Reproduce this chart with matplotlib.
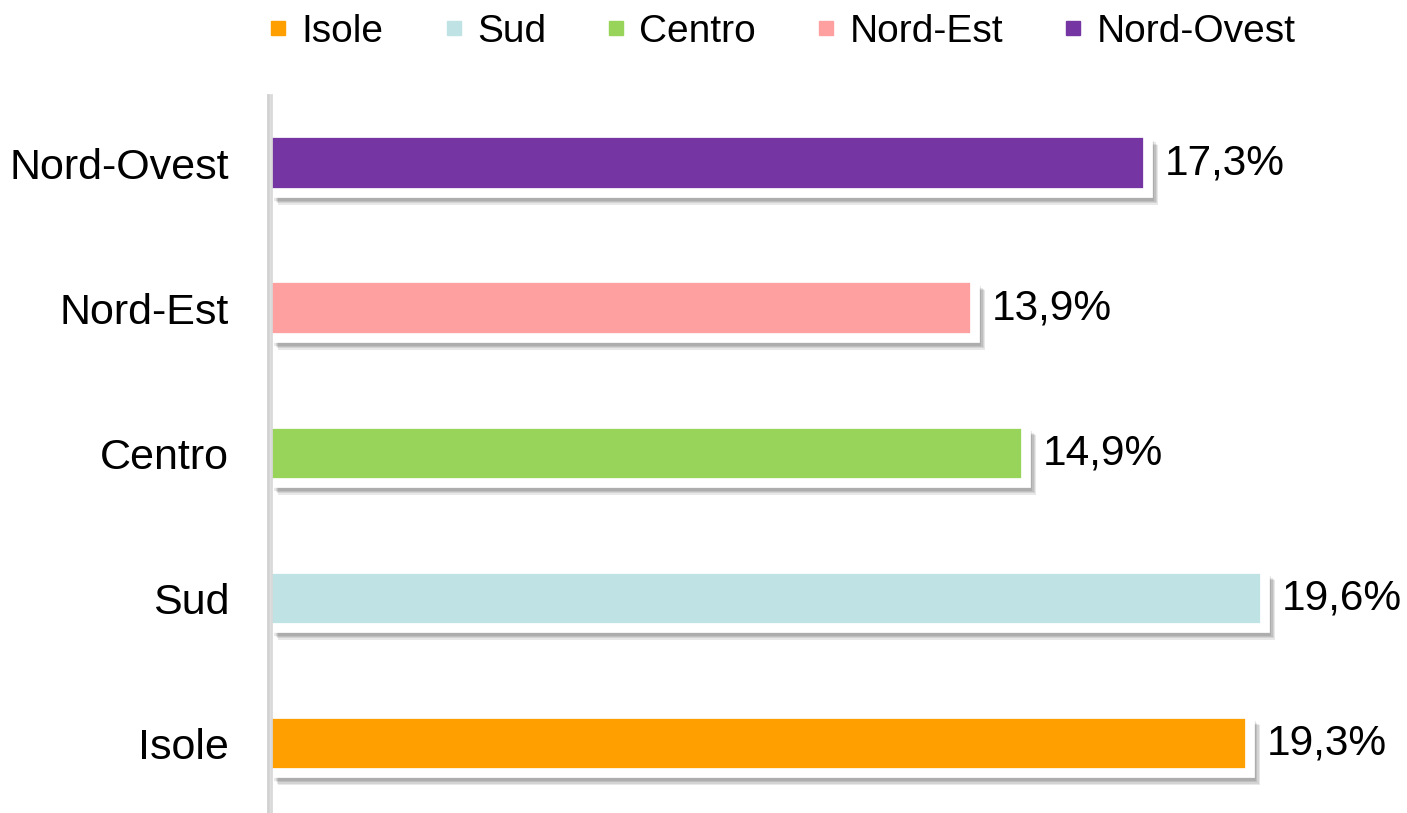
import matplotlib
matplotlib.use("Agg")
import matplotlib.pyplot as plt
import matplotlib.patheffects as pe
from matplotlib.lines import Line2D

regions = ["Isole", "Sud", "Centro", "Nord-Est", "Nord-Ovest"]
values = [19.3, 19.6, 14.9, 13.9, 17.3]
labels = ["19,3%", "19,6%", "14,9%", "13,9%", "17,3%"]
colors = ["#FF9F00", "#BFE3E4", "#99D45A", "#FFA0A0", "#7535A3"]

plt.rcParams['font.family'] = ['Liberation Sans', 'DejaVu Sans']

fig = plt.figure(figsize=(14.07, 8.13), dpi=100)
ax = fig.add_axes([268 / 1407, 0.0, 1119 / 1407, 718 / 813])

# soft-ish shadow: a few stacked offsets with low alpha
shadow = [pe.SimplePatchShadow(offset=(o, -o - 1), shadow_rgbFace="#000000", alpha=0.09)
          for o in (7.5, 6.5, 5.5, 4.5)]
shadow.append(pe.Normal())

bars = ax.barh(range(len(regions)), values, height=0.41, color=colors,
               edgecolor="white", linewidth=7)
for b in bars:
    b.set_path_effects(shadow)

for i, (v, lab) in enumerate(zip(values, labels)):
    ax.annotate(lab, (v, i), xytext=(12, 0), textcoords="offset points",
                va="center", ha="left", fontsize=30.5)

ax.set_xlim(0, 22)
ax.set_ylim(-0.48, 4.47)
ax.set_yticks(range(len(regions)))
ax.set_yticklabels(regions, fontsize=31)
ax.tick_params(axis="y", length=0, pad=28)
ax.set_xticks([])
for s in ["top", "right", "bottom"]:
    ax.spines[s].set_visible(False)
ax.spines["left"].set_color("#D0D0D0")
ax.spines["left"].set_linewidth(2)
ax.spines["left"].set_path_effects([pe.SimpleLineShadow(offset=(2, 0), alpha=0.15), pe.Normal()])
ax.set_zorder(1)

handles = [Line2D([], [], marker="s", linestyle="", markersize=10, color=c) for c in colors]
fig.legend(handles, regions, loc="upper center", bbox_to_anchor=(0.553, 1.026), ncol=5,
           frameon=False, fontsize=28, handletextpad=0.15, columnspacing=1.35,
           handlelength=0.9)

fig.savefig("out.png", dpi=100, facecolor="white")
